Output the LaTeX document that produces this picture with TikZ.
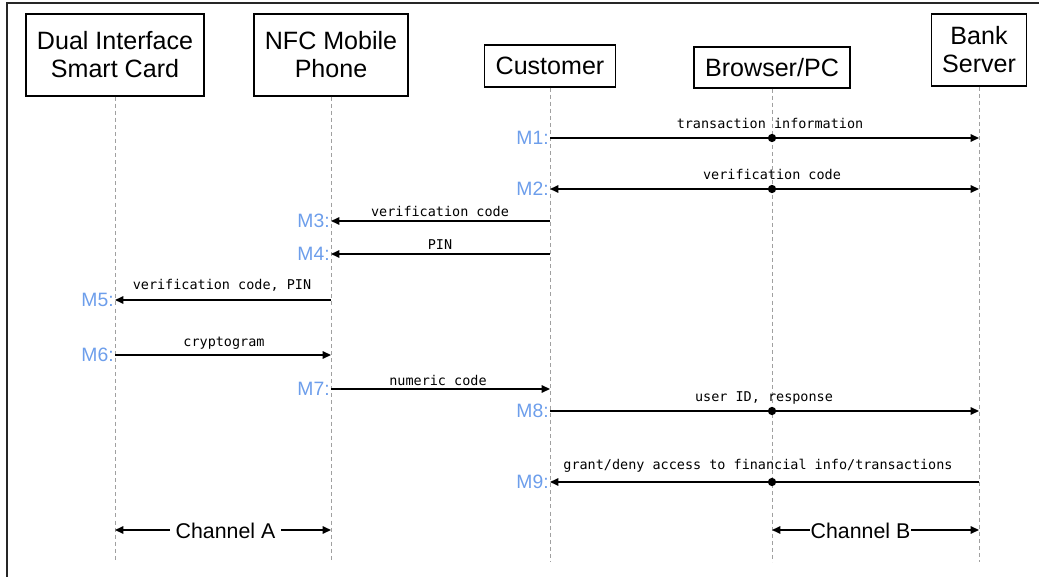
\documentclass[tikz,border=0pt]{standalone}
\usepackage{fontspec}
\setmainfont{Liberation Sans}
\newfontfamily\msgfont{DejaVu Sans Mono}
\usetikzlibrary{arrows.meta}
\definecolor{mblue}{RGB}{109,158,235}
\definecolor{lifegray}{RGB}{160,160,160}
\begin{document}
\begin{tikzpicture}[x=0.75pt,y=-0.75pt,
  actor/.style={draw=black,line width=0.8pt,align=center,inner sep=2pt,
    font=\fontsize{18.8}{21}\selectfont},
  life/.style={draw=lifegray,line width=0.75pt,dash pattern=on 3pt off 2.3pt},
  msg/.style={line width=1.1pt,-{Triangle[length=6.3pt,width=5.6pt]}},
  bimsg/.style={line width=1.1pt,{Triangle[length=6.3pt,width=5.6pt]}-{Triangle[length=6.3pt,width=5.6pt]}},
  dotnode/.style={circle,fill=black,inner sep=0pt,minimum size=6.2pt},
  mlab/.style={anchor=east,inner sep=0.8pt,text=mblue,font=\fontsize{14.5}{16}\selectfont},
  txt/.style={anchor=base,inner sep=0pt,font=\msgfont\fontsize{10.1}{12}\selectfont},
  chan/.style={inner sep=0pt,font=\fontsize{16}{18}\selectfont},
  frame/.style={line width=1.5pt,draw=black!85}]
\useasboundingbox (0,0) rectangle (1039,577);

% outer frame (only top and left edges visible)
\draw[frame] (7,577) -- (7,3) -- (1039,3);

% participants
\node[actor,minimum width=133.5pt,minimum height=61.5pt] (card) at (115,55) {Dual Interface\\Smart Card};
\node[actor,minimum width=115.5pt,minimum height=61.5pt] (phone) at (331,55) {NFC Mobile\\Phone};
\node[actor,minimum width=98.25pt,minimum height=31.5pt] (cust) at (550,66) {Customer};
\node[actor,minimum width=117pt,minimum height=30.75pt] (pc) at (772,67.5) {Browser/PC};
\node[actor,minimum width=71.25pt,minimum height=54pt] (bank) at (979,50) {Bank\\Server};

% lifeline ends
\coordinate (cardE) at (115,562);
\coordinate (phoneE) at (331,562);
\coordinate (custE) at (550,562);
\coordinate (pcE) at (772,562);
\coordinate (bankE) at (979,562);
\draw[life] (card) -- (cardE);
\draw[life] (phone) -- (phoneE);
\draw[life] (cust) -- (custE);
\draw[life] (pc) -- (pcE);
\draw[life] (bank) -- (bankE);

% M1
\coordinate (c1) at (550,138); \coordinate (b1) at (979,138);
\draw[msg] (c1) -- (b1);
\node[dotnode] (d1) at (772,138) {};
\node[mlab] (l1) at (c1) {M1:};
\node[txt] (t1) at (770,129) {transaction information};

% M2
\coordinate (c2) at (550,189); \coordinate (b2) at (979,189);
\draw[bimsg] (c2) -- (b2);
\node[dotnode] (d2) at (772,189) {};
\node[mlab] (l2) at (c2) {M2:};
\node[txt] (t2) at (772,180) {verification code};

% M3
\coordinate (c3) at (550,221); \coordinate (p3) at (331,221);
\draw[msg] (c3) -- (p3);
\node[mlab] (l3) at (p3) {M3:};
\node[txt] (t3) at (440,217) {verification code};

% M4
\coordinate (c4) at (550,254); \coordinate (p4) at (331,254);
\draw[msg] (c4) -- (p4);
\node[mlab] (l4) at (p4) {M4:};
\node[txt] (t4) at (440,250) {PIN};

% M5
\coordinate (p5) at (331,300); \coordinate (s5) at (115,300);
\draw[msg] (p5) -- (s5);
\node[mlab] (l5) at (s5) {M5:};
\node[txt] (t5) at (222,290) {verification code, PIN};

% M6
\coordinate (s6) at (115,355); \coordinate (p6) at (331,355);
\draw[msg] (s6) -- (p6);
\node[mlab] (l6) at (s6) {M6:};
\node[txt] (t6) at (224,347) {cryptogram};

% M7
\coordinate (p7) at (331,389); \coordinate (c7) at (550,389);
\draw[msg] (p7) -- (c7);
\node[mlab] (l7) at (p7) {M7:};
\node[txt] (t7) at (438,385) {numeric code};

% M8
\coordinate (c8) at (550,411); \coordinate (b8) at (979,411);
\draw[msg] (c8) -- (b8);
\node[dotnode] (d8) at (772,411) {};
\node[mlab] (l8) at (c8) {M8:};
\node[txt] (t8) at (764,401) {user ID, response};

% M9
\coordinate (b9) at (979,482); \coordinate (c9) at (550,482);
\draw[msg] (b9) -- (c9);
\node[dotnode] (d9) at (772,482) {};
\node[mlab] (l9) at (c9) {M9:};
\node[txt] (t9) at (758,469) {grant/deny access to financial info/transactions};

% channels
\coordinate (chA1) at (115,530); \coordinate (chA2) at (331,530);
\node[chan,minimum width=83pt,minimum height=14pt] (chA) at (225.5,531) {Channel A};
\draw[msg] (chA.west |- chA1) -- (chA1);
\draw[msg] (chA.east |- chA2) -- (chA2);

\coordinate (chB1) at (772,530); \coordinate (chB2) at (979,530);
\node[chan,minimum width=76pt,minimum height=14pt] (chB) at (860.5,531) {Channel B};
\draw[msg] (chB.west |- chB1) -- (chB1);
\draw[msg] (chB.east |- chB2) -- (chB2);
\end{tikzpicture}
\end{document}
